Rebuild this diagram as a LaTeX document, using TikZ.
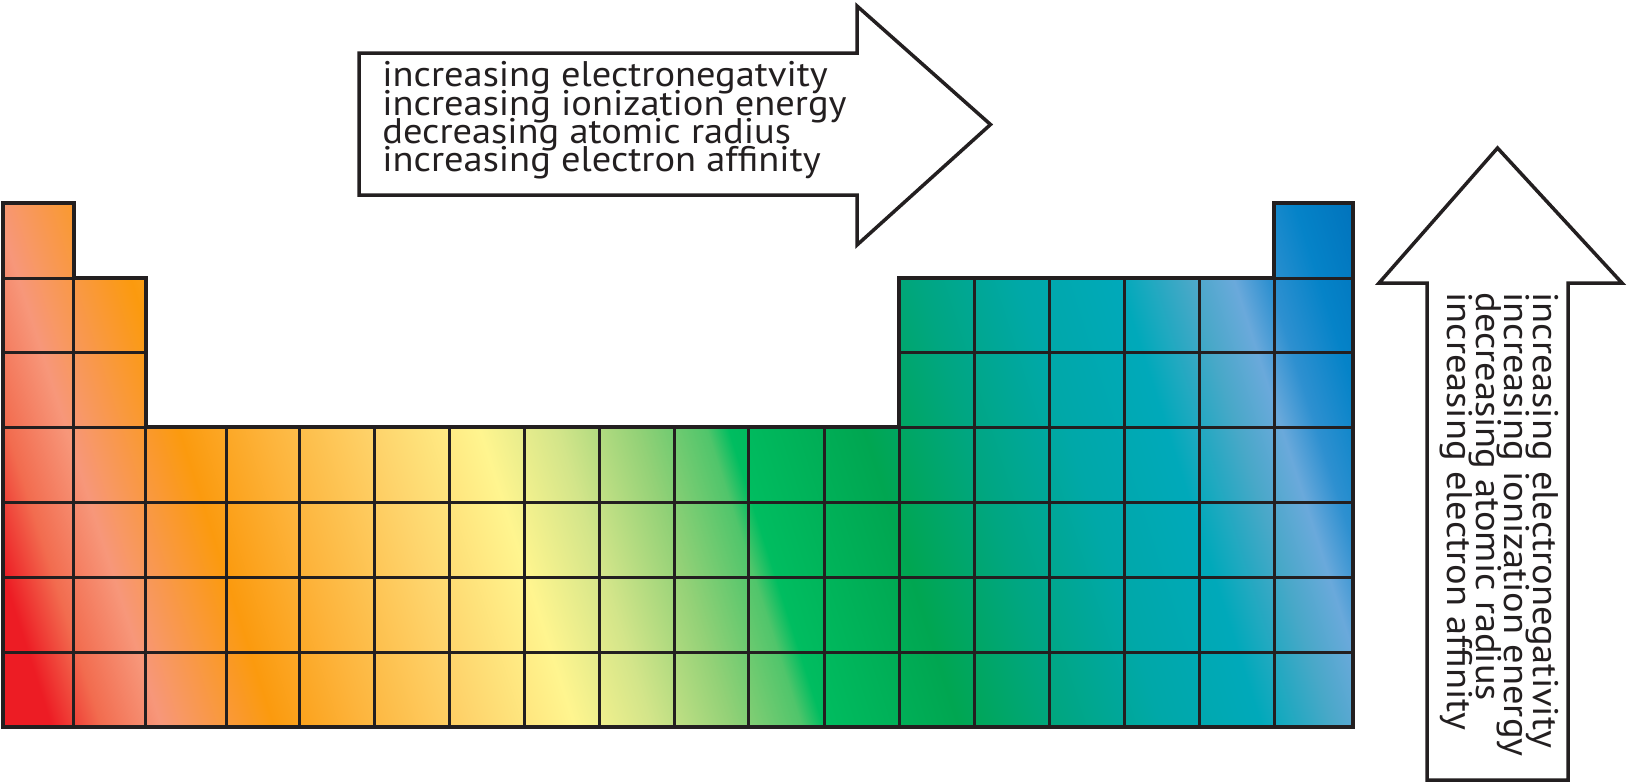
\documentclass[tikz,border=0pt]{standalone}
\usepackage{fontspec}
\setmainfont{PT Sans}[FakeStretch=1.08]
\definecolor{lc}{HTML}{231F20}
\definecolor{ga}{HTML}{ED1C24}
\definecolor{gb}{HTML}{F26C4F}
\definecolor{gc}{HTML}{F7977A}
\definecolor{gd}{HTML}{FB9A0E}
\definecolor{ge}{HTML}{FDB43C}
\definecolor{gf}{HTML}{FED46C}
\definecolor{gg}{HTML}{FFF58F}
\definecolor{gh}{HTML}{D3E58A}
\definecolor{gi}{HTML}{93D177}
\definecolor{gj}{HTML}{50C56B}
\definecolor{gk}{HTML}{00BD60}
\definecolor{gl}{HTML}{00A651}
\definecolor{gm}{HTML}{00A681}
\definecolor{gn}{HTML}{00A8A8}
\definecolor{go}{HTML}{00A9BA}
\definecolor{gp}{HTML}{48A8C8}
\definecolor{gq}{HTML}{6AA9DB}
\definecolor{gr}{HTML}{2E90D0}
\definecolor{gs}{HTML}{0583C8}
\definecolor{gt}{HTML}{0070BA}
\pgfdeclarehorizontalshading{ptab}{100bp}{%
color(0bp)=(ga); color(25bp)=(ga); color(26.95bp)=(ga); color(28.57bp)=(gb);
color(30.52bp)=(gc); color(34.16bp)=(gd); color(37.01bp)=(ge); color(40.58bp)=(gf);
color(43.93bp)=(gg); color(46.43bp)=(gh); color(49.03bp)=(gi); color(51.30bp)=(gj);
color(52.01bp)=(gk); color(56.43bp)=(gl); color(59.74bp)=(gm); color(62.99bp)=(gn);
color(66.23bp)=(go); color(68.51bp)=(gp); color(69.97bp)=(gq); color(71.10bp)=(gr);
color(72.73bp)=(gs); color(75bp)=(gt); color(100bp)=(gt)}
\newcommand\lblfont{\fontsize{17.8pt}{17.8pt}\selectfont}
\begin{document}
\begin{tikzpicture}[x=0.5pt,y=-0.5pt,
  cellline/.style={draw=lc,line width=1.5pt},
  outline/.style={draw=lc,line width=2pt,line join=miter},
  arrowshape/.style={draw=lc,fill=white,line width=1.75pt,line join=miter,miter limit=10},
  lbl/.style={inner sep=0pt,font=\lblfont,text=lc}]
\useasboundingbox (0,0) rectangle (1627,783);
% gradient fill of the table
\begin{scope}
  \clip (3,203) -- (73.5,203) -- (73.5,278) -- (145.5,278) -- (145.5,427) -- (899,427) -- (899,278) -- (1274,278) -- (1274,203) -- (1353,203) -- (1353,727) -- (3,727) -- cycle;
  \begin{scope}[transform canvas={rotate=17.7447}]
    \shade[shading=ptab] (-114.67pt,-580pt) rectangle (618.69pt,-70pt);
  \end{scope}
\end{scope}
% cells
\def\cx{{3,73.5,145.5,226,299,374,449,524,599,674,748.5,824,899,974,1049,1124,1199,1274,1353}}
\def\ry{{203,278,352.5,427,502,577,652,727}}
\foreach \r/\a/\b in {1/1/1,1/18/18,2/1/2,2/13/18,3/1/2,3/13/18,4/1/18,5/1/18,6/1/18,7/1/18}{
  \foreach \c in {\a,...,\b}{
    \pgfmathsetmacro\xa{\cx[\c-1]}
    \pgfmathsetmacro\xb{\cx[\c]}
    \pgfmathsetmacro\ya{\ry[\r-1]}
    \pgfmathsetmacro\yb{\ry[\r]}
    \draw[cellline] (\xa,\ya) rectangle (\xb,\yb);
  }
}
\draw[outline] (3,203) -- (73.5,203) -- (73.5,278) -- (145.5,278) -- (145.5,427) -- (899,427) -- (899,278) -- (1274,278) -- (1274,203) -- (1353,203) -- (1353,727) -- (3,727) -- cycle;
% horizontal arrow
\draw[arrowshape] (359,53) -- (857,53) -- (857,6) -- (990.5,124.5) -- (857,245) -- (857,195) -- (359,195) -- cycle;
\node[lbl,anchor=base west] (h1) at (382,86.7) {increasing electronegatvity};
\node[lbl,anchor=base west] (h2) at (382,115) {increasing ionization energy};
\node[lbl,anchor=base west] (h3) at (382,143.3) {decreasing atomic radius};
\node[lbl,anchor=base west] (h4) at (382,171.6) {increasing electron affinity};
% vertical arrow
\draw[arrowshape] (1427,780) -- (1427,283) -- (1379,283) -- (1497.5,148) -- (1622,283) -- (1568,283) -- (1568,780) -- cycle;
\node[lbl,anchor=base west,rotate=-90] (v1) at (1533,292) {increasing electronegativity};
\node[lbl,anchor=base west,rotate=-90] (v2) at (1504.5,292) {increasing ionization energy};
\node[lbl,anchor=base west,rotate=-90] (v3) at (1476,292) {decreasing atomic radius};
\node[lbl,anchor=base west,rotate=-90] (v4) at (1447.5,292) {increasing electron affinity};
\end{tikzpicture}
\end{document}
